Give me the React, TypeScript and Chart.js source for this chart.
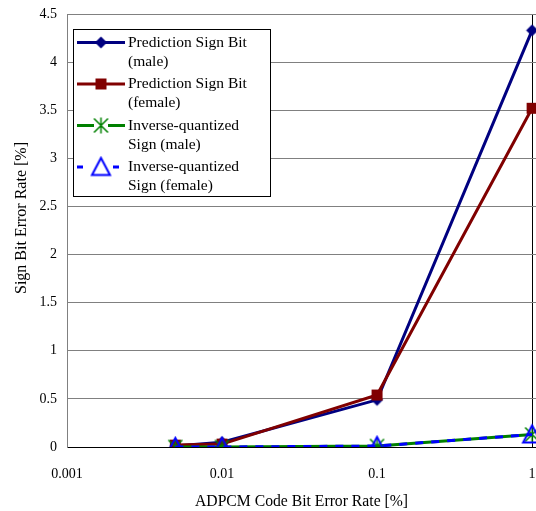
import React, { useEffect, useRef } from "react";
import { Chart, registerables } from "chart.js";

Chart.register(...registerables);

const xValues = [0.005, 0.01, 0.1, 1];
const predMale = [0.01, 0.05, 0.49, 4.33];
const predFemale = [0.02, 0.03, 0.54, 3.52];
const invMale = [0.0, 0.0, 0.01, 0.13];
const invFemale = [0.0, 0.0, 0.01, 0.13];

const xTicks = [0.001, 0.01, 0.1, 1];
const xTickLabels = ["0.001", "0.01", "0.1", "1"];

const xTitle = "ADPCM Code Bit Error Rate [%]";
const yTitle = "Sign Bit Error Rate [%]";

const seriesNames = [
  ["Prediction Sign Bit", "(male)"],
  ["Prediction Sign Bit", "(female)"],
  ["Inverse-quantized", "Sign (male)"],
  ["Inverse-quantized", "Sign (female)"],
];

const NAVY = "#000080";
const DARKRED = "#800000";
const GREEN = "#008000";
const BLUE = "#0000FF";
const FONT = "'Liberation Serif', 'Times New Roman', serif";

function makeMarker(kind: string): HTMLCanvasElement {
  const s = 23;
  const c = document.createElement("canvas");
  c.width = s;
  c.height = s;
  const g = c.getContext("2d")!;
  const m = s / 2;
  if (kind === "diamond") {
    g.fillStyle = NAVY;
    g.beginPath();
    g.moveTo(m, m - 6);
    g.lineTo(m + 6, m);
    g.lineTo(m, m + 6);
    g.lineTo(m - 6, m);
    g.closePath();
    g.fill();
  } else if (kind === "square") {
    g.fillStyle = DARKRED;
    g.fillRect(m - 5.5, m - 5.5, 11, 11);
  } else if (kind === "star") {
    g.strokeStyle = GREEN;
    g.lineWidth = 1.5;
    g.beginPath();
    g.moveTo(m - 7, m - 7);
    g.lineTo(m + 7, m + 7);
    g.moveTo(m + 7, m - 7);
    g.lineTo(m - 7, m + 7);
    g.moveTo(m, m - 8);
    g.lineTo(m, m + 8);
    g.stroke();
  } else if (kind === "triangle") {
    g.strokeStyle = BLUE;
    g.lineWidth = 2;
    g.beginPath();
    g.moveTo(m, m - 9);
    g.lineTo(m + 9, m + 8);
    g.lineTo(m - 9, m + 8);
    g.closePath();
    g.stroke();
  }
  return c;
}

export default function App() {
  const ref = useRef<HTMLCanvasElement | null>(null);

  useEffect(() => {
    document.body.style.margin = "0";
    const canvas = ref.current!;
    const markers = {
      diamond: makeMarker("diamond"),
      square: makeMarker("square"),
      star: makeMarker("star"),
      triangle: makeMarker("triangle"),
    };
    const legendSpec = [
      { color: NAVY, dashed: false, marker: markers.diamond },
      { color: DARKRED, dashed: false, marker: markers.square },
      { color: GREEN, dashed: false, marker: markers.star },
      { color: BLUE, dashed: true, marker: markers.triangle },
    ];

    const legendPlugin = {
      id: "boxLegend",
      afterDraw(chart: any) {
        const ctx = chart.ctx as CanvasRenderingContext2D;
        ctx.save();
        // y-axis title
        ctx.save();
        ctx.translate(22, 218);
        ctx.rotate(-Math.PI / 2);
        ctx.font = `16px ${FONT}`;
        ctx.fillStyle = "#000";
        ctx.textAlign = "center";
        ctx.textBaseline = "middle";
        ctx.fillText(yTitle, 0, 0);
        ctx.restore();

        const bx = 73, by = 29, bw = 197, bh = 167;
        ctx.fillStyle = "#fff";
        ctx.fillRect(bx, by, bw, bh);
        ctx.strokeStyle = "#000";
        ctx.lineWidth = 1;
        ctx.strokeRect(bx + 0.5, by + 0.5, bw, bh);
        ctx.font = `15.5px ${FONT}`;
        ctx.textBaseline = "middle";
        ctx.textAlign = "left";
        legendSpec.forEach((it, i) => {
          const y = 42.5 + i * 41.5;
          ctx.strokeStyle = it.color;
          ctx.lineWidth = 3;
          ctx.beginPath();
          if (it.dashed) {
            ctx.moveTo(77, y);
            ctx.lineTo(83, y);
            ctx.moveTo(113, y);
            ctx.lineTo(119, y);
          } else if (it.color === GREEN) {
            ctx.moveTo(77, y);
            ctx.lineTo(94, y);
            ctx.moveTo(108, y);
            ctx.lineTo(125, y);
          } else {
            ctx.moveTo(77, y);
            ctx.lineTo(125, y);
          }
          ctx.stroke();
          const mk = it.marker;
          ctx.drawImage(mk, 101 - mk.width / 2, y - mk.height / 2);
          ctx.fillStyle = "#000";
          ctx.fillText(seriesNames[i][0], 128, y);
          ctx.fillText(seriesNames[i][1], 128, y + 19);
        });
        ctx.restore();
      },
    };

    const toPts = (ys: number[]) => xValues.map((x, i) => ({ x, y: ys[i] }));

    const chart = new Chart(canvas, {
      type: "line",
      data: {
        datasets: [
          {
            label: seriesNames[3].join(" "),
            data: toPts(invFemale),
            borderColor: BLUE,
            borderWidth: 3,
            borderDash: [8, 8],
            pointStyle: markers.triangle as any,
            order: 0,
          },
          {
            label: seriesNames[2].join(" "),
            data: toPts(invMale),
            borderColor: GREEN,
            borderWidth: 3,
            pointStyle: markers.star as any,
            order: 1,
          },
          {
            label: seriesNames[1].join(" "),
            data: toPts(predFemale),
            borderColor: DARKRED,
            borderWidth: 3,
            pointStyle: markers.square as any,
            order: 2,
          },
          {
            label: seriesNames[0].join(" "),
            data: toPts(predMale),
            borderColor: NAVY,
            borderWidth: 3,
            pointStyle: markers.diamond as any,
            order: 3,
          },
        ],
      },
      options: {
        animation: false,
        responsive: false,
        devicePixelRatio: 1,
        layout: { autoPadding: false, padding: { top: 14, right: 0, left: 0, bottom: 0 } },
        plugins: {
          legend: { display: false },
          tooltip: { enabled: false },
        },
        elements: { line: { tension: 0 } },
        scales: {
          x: {
            type: "logarithmic",
            min: 0.001,
            max: 1.06,
            afterBuildTicks: (scale: any) => {
              scale.ticks = xTicks.map((v) => ({ value: v }));
            },
            afterFit: (scale: any) => {
              scale.height = 64;
              scale.paddingRight = 0;
              scale.paddingLeft = 0;
            },
            ticks: {
              autoSkip: false,
              maxRotation: 0,
              color: "#000",
              font: { family: FONT, size: 14 },
              padding: 0,
              callback: (v: any) => {
                const idx = xTicks.findIndex((t) => Math.abs(t - Number(v)) < 1e-9);
                return idx >= 0 ? xTickLabels[idx] : "";
              },
            },
            grid: {
              drawTicks: true,
              tickLength: 19,
              tickColor: "rgba(0,0,0,0)",
              color: (ctx: any) => (ctx.tick && Math.abs(ctx.tick.value - 1) < 1e-9 ? "#000" : "rgba(0,0,0,0)"),
              lineWidth: 1,
            },
            border: { color: "#000", width: 1 },
            title: {
              display: true,
              text: xTitle,
              color: "#000",
              font: { family: FONT, size: 15.7 },
              padding: { top: 16, bottom: 0 },
            },
          },
          y: {
            min: 0,
            max: 4.5,
            afterFit: (scale: any) => {
              scale.width = 67;
            },
            ticks: {
              stepSize: 0.5,
              color: "#000",
              font: { family: FONT, size: 14 },
              padding: 0,
              callback: (v: any) => String(Math.round(Number(v) * 10) / 10),
            },
            grid: {
              drawTicks: true,
              tickLength: 10,
              tickColor: "rgba(0,0,0,0)",
              color: "#808080",
              lineWidth: 1,
            },
            border: { color: "#808080", width: 1 },
            title: { display: false },
          },
        },
      },
      plugins: [legendPlugin],
    } as any);

    return () => chart.destroy();
  }, []);

  return (
    <div style={{ width: 536, height: 511 }}>
      <canvas ref={ref} width={536} height={511} style={{ display: "block" }} />
    </div>
  );
}
